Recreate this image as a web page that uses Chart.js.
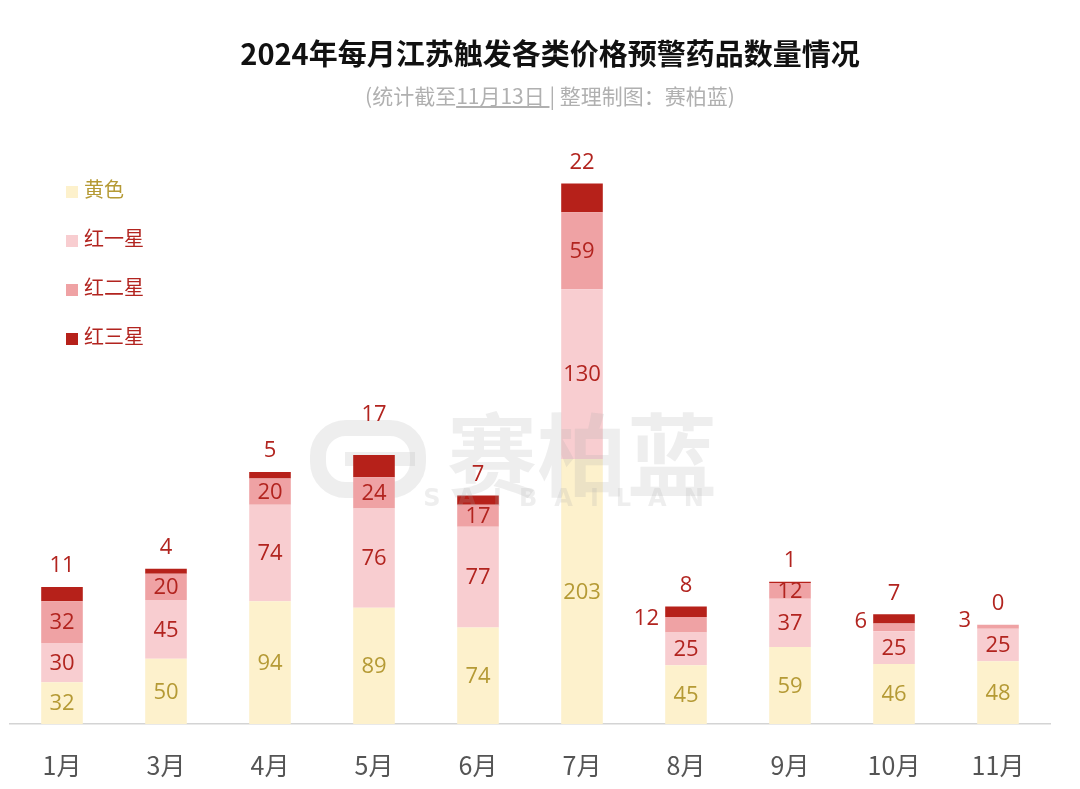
<!DOCTYPE html>
<html>
<head>
<meta charset="utf-8">
<script src="https://cdn.jsdelivr.net/npm/chart.js@4/dist/chart.umd.min.js"></script>
<style>
    body { margin: 0; background: #fff; font-family: "Noto Sans CJK SC", "Noto Sans", sans-serif; }
    #wrap { position: relative; width: 1080px; height: 789px; }
    #title { position: absolute; top: 31px; left: 0; width: 1100px; text-align: center; font-size: 29px; font-weight: bold; color: #111; }
    #subtitle { position: absolute; top: 80px; left: 0; width: 1100px; text-align: center; font-size: 21px; color: #b0b0b0; }
    #subtitle u { text-decoration-color: #b0b0b0; }
    #legend { position: absolute; left: 66px; top: 173px; }
    .item { height: 49px; font-size: 20px; line-height: 32px; }
    .item span { display: inline-block; width: 12px; height: 12px; margin-right: 6px; vertical-align: -1px; }
    canvas { position: absolute; top: 0; left: 0; }
</style>
</head>
<body>
<div id="wrap">
    <canvas id="chart" width="1080" height="789"></canvas>
    <div id="title">2024年每月江苏触发各类价格预警药品数量情况</div>
    <div id="subtitle">(统计截至<u>11月13日 </u>| 整理制图：赛柏蓝)</div>
    <div id="legend"></div>
</div>
<script>
let months = ['1月', '3月', '4月', '5月', '6月', '7月', '8月', '9月', '10月', '11月']
let yellow = [32, 50, 94, 89, 74, 203, 45, 59, 46, 48]
let redOne = [30, 45, 74, 76, 77, 130, 25, 37, 25, 25]
let redTwo = [32, 20, 20, 24, 17, 59, 12, 12, 6, 3]
let redThree = [11, 4, 5, 17, 7, 22, 8, 1, 7, 0]

// months where the 红二星 label sits left of the bar
let leftLabels = ['8月', '10月', '11月']
// months where the 红三星 label is pushed higher
let raisedLabels = ['5月']

let series = [
    { label: '黄色', data: yellow, color: '#fdf1cc', text: '#b59a35' },
    { label: '红一星', data: redOne, color: '#f8cdd0', text: '#b2241f' },
    { label: '红二星', data: redTwo, color: '#efa2a4', text: '#b2241f' },
    { label: '红三星', data: redThree, color: '#b6211a', text: '#b2241f' }
]

// html legend, top left
let legend = document.getElementById('legend')
series.forEach(function(s){
    let div = document.createElement('div')
    div.className = 'item'
    div.style.color = s.text
    div.innerHTML = '<span style="background:' + s.color + '"></span>' + s.label
    legend.appendChild(div)
})

let labelPlugin = {
    id: 'segLabels',
    beforeDatasetsDraw: function(chart){
        // faint watermark logo, behind the bars
        let ctx = chart.ctx
        ctx.save()
        ctx.strokeStyle = 'rgba(170, 170, 170, 0.2)'
        ctx.fillStyle = 'rgba(170, 170, 170, 0.2)'
        ctx.lineWidth = 16
        ctx.beginPath()
        ctx.roundRect(318, 428, 100, 62, 28)
        ctx.stroke()
        ctx.fillRect(345, 452, 70, 14)
        ctx.restore()
    },
    afterDatasetsDraw: function(chart){
        let ctx = chart.ctx
        ctx.save()

        // watermark name
        ctx.fillStyle = 'rgba(170, 170, 170, 0.2)'
        ctx.textAlign = 'center'
        ctx.textBaseline = 'middle'
        ctx.font = 'bold 90px "Noto Sans CJK SC"'
        ctx.fillText('赛柏蓝', 582, 455)
        ctx.font = 'bold 24px "DejaVu Sans"'
        ctx.letterSpacing = '17px'
        ctx.fillText('SAIBAILAN', 572, 500)
        ctx.letterSpacing = '0px'

        ctx.font = '22px "Open Sans", "Noto Sans", sans-serif'
        chart.data.datasets.forEach(function(ds, i){
            let meta = chart.getDatasetMeta(i)
            meta.data.forEach(function(bar, j){
                let v = ds.data[j]
                ctx.fillStyle = series[i].text
                if (i === 3) {
                    let up = raisedLabels.indexOf(months[j]) >= 0 ? 40 : 21
                    ctx.fillText(v, bar.x, bar.y - up)
                } else if (i === 2 && leftLabels.indexOf(months[j]) >= 0) {
                    ctx.textAlign = 'right'
                    ctx.fillText(v, bar.x - 27, (bar.y + bar.base) / 2 - 6)
                    ctx.textAlign = 'center'
                } else {
                    ctx.fillText(v, bar.x, (bar.y + bar.base) / 2 + 1)
                }
            })
        })
        ctx.restore()
    }
}

let chart = new Chart(document.getElementById('chart').getContext('2d'), {
    type: 'bar',
    data: {
        labels: months,
        datasets: series.map(function(s){
            return {
                label: s.label,
                data: s.data,
                backgroundColor: s.color,
                borderWidth: 0,
                categoryPercentage: 1,
                barPercentage: 0.4
            }
        })
    },
    options: {
        responsive: false,
        animation: false,
        layout: { padding: { top: 130, left: 10, right: 30, bottom: 0 } },
        plugins: {
            legend: { display: false },
            tooltip: { enabled: false }
        },
        scales: {
            x: {
                stacked: true,
                grid: { display: false },
                border: { color: '#d4d4d4', width: 1.5 },
                ticks: { color: '#555', padding: 18, font: { size: 25, family: '"Noto Sans CJK SC"' } },
                afterFit: function(axis){ axis.height = 65 }
            },
            y: {
                stacked: true,
                display: false,
                min: 0,
                max: 455
            }
        }
    },
    plugins: [labelPlugin]
})
</script>
</body>
</html>
